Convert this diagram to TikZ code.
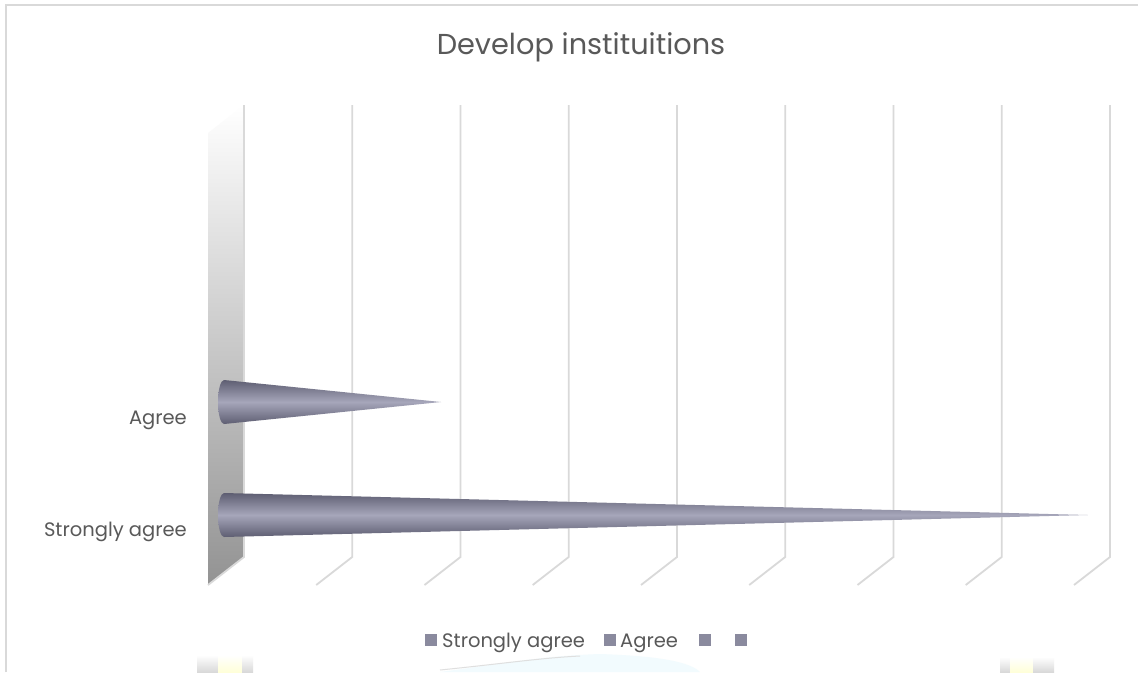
\documentclass[tikz,border=0pt]{standalone}
\usepackage{fontspec}
\setmainfont{Poppins}
\definecolor{txt}{HTML}{595959}
\definecolor{grid}{HTML}{D9D9D9}
\definecolor{conemid}{HTML}{A6A6BA}
\definecolor{coneedge}{HTML}{5E5E72}
\definecolor{legsq}{HTML}{8A8A9E}
\begin{document}
\begin{tikzpicture}[x=1pt,y=-1pt,
  gridline/.style={draw=grid,line width=1.8pt},
  cone/.style={top color=coneedge,bottom color=coneedge,middle color=conemid,draw=none},
  axlabel/.style={text=txt,font=\fontsize{19.5}{22}\selectfont,anchor=base east,inner sep=0pt},
  legtext/.style={text=txt,font=\fontsize{19.5}{22}\selectfont,anchor=base west,inner sep=0pt},
  legbox/.style={fill=legsq,draw=none}]
\useasboundingbox (0,0) rectangle (1147,672);
\fill[white] (0,0) rectangle (1147,672);
% outer border
\draw[grid,line width=1.5pt] (6,672) -- (6,5) -- (1138,5);
% faint background artifacts at bottom
\shade[top color=white,bottom color=gray!30] (197,655) rectangle (218,672);
\shade[top color=white,bottom color=yellow!15] (218,655) rectangle (242,672);
\shade[top color=white,bottom color=gray!30] (242,655) rectangle (253,672);
\shade[top color=white,bottom color=gray!30] (1000,657) rectangle (1010,672);
\shade[top color=white,bottom color=yellow!15] (1010,657) rectangle (1033,672);
\shade[top color=white,bottom color=gray!30] (1033,657) rectangle (1054,672);
\fill[cyan!5] (440,672) .. controls (500,664) and (540,656) .. (600,654) .. controls (660,656) and (690,662) .. (700,672) -- cycle;
\draw[gray!25,line width=1pt] (440,670) .. controls (500,664) and (540,658) .. (580,656);
% title
\node[text=txt,font=\fontsize{28.8}{32}\selectfont,inner sep=0pt,anchor=base] (title) at (581,54) {Develop instituitions};
% back wall
\shade[top color=white,bottom color=gray!85,draw=none] (208,133) -- (244,105) -- (244,557) -- (208,585) -- cycle;
% grid lines
\foreach \x in {244,352.2,460.5,568.7,677,785.2,893.5,1001.7,1110} {
  \draw[gridline] (\x,105) -- (\x,557) -- (\x-36,585);
}
% cones
\shade[cone] (224,380) -- (441,402) -- (224,424) arc[start angle=90,end angle=270,x radius=6,y radius=22] -- cycle;
\shade[cone] (224,493) -- (1088,515) -- (224,537) arc[start angle=90,end angle=270,x radius=6,y radius=22] -- cycle;
% axis labels
\node[axlabel] (lagree) at (187,424) {Agree};
\node[axlabel] (lsagree) at (187,536) {Strongly agree};
% legend
\fill[legbox] (425,634) rectangle (437,646);
\node[legtext] (t1) at (442,647) {Strongly agree};
\fill[legbox] (604,634) rectangle (616,646);
\node[legtext] (t2) at (620,647) {Agree};
\fill[legbox] (699,634) rectangle (711,646);
\fill[legbox] (735,634) rectangle (747,646);
\end{tikzpicture}
\end{document}
